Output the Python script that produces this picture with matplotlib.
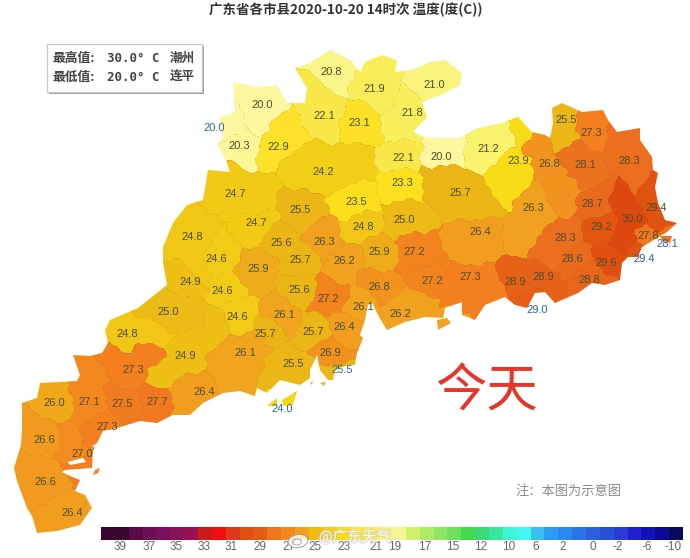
import numpy as np
import matplotlib
matplotlib.use('Agg')
import matplotlib.pyplot as plt
import matplotlib.patheffects as pe
from matplotlib.colors import LinearSegmentedColormap, ListedColormap, Normalize
from matplotlib.patches import Rectangle, PathPatch, Ellipse, Polygon
from matplotlib.path import Path

plt.rcParams['font.family'] = ['Noto Sans CJK SC', 'DejaVu Sans']

# station values, map position (image pixels)
label_temp = [20.8, 21.9, 21.0, 20.0, 22.1, 23.1, 21.8, 20.0, 20.3, 22.9,
              22.1, 20.0, 21.2, 25.5, 27.3, 23.9, 26.8, 28.1, 28.3, 24.2,
              23.3, 25.7, 24.7, 25.5, 23.5, 24.7, 26.3, 26.4, 28.7, 24.8,
              24.8, 25.0, 25.6, 26.3, 24.6, 25.7, 25.9, 25.9, 27.2, 27.2,
              27.3, 26.2, 28.3, 29.2, 30.0, 29.4, 27.8, 28.1, 28.6, 29.6,
              29.4, 24.9, 24.6, 25.6, 27.2, 26.8, 28.9, 28.9, 28.8, 26.2,
              26.1, 29.0, 25.0, 24.6, 26.1, 25.7, 26.4, 24.8, 25.7, 24.9,
              26.1, 25.5, 26.9, 25.5, 27.3, 26.4, 26.0, 27.1, 27.5, 27.7,
              24.0, 26.6, 27.3, 27.0, 26.6, 26.4]
label_x = [331, 374, 434, 262, 324, 359, 412, 214, 239, 278,
           403, 441, 488, 566, 591, 518, 549, 585, 629, 323,
           402, 460, 235, 300, 356, 256, 533, 480, 592, 192,
           363, 404, 281, 324, 216, 300, 258, 379, 414, 432,
           470, 344, 565, 601, 632, 656, 648, 667, 572, 606,
           644, 190, 222, 299, 328, 379, 515, 543, 589, 400,
           363, 537, 168, 237, 284, 313, 344, 127, 265, 185,
           245, 293, 330, 342, 133, 204, 54, 89, 122, 157,
           282, 44, 107, 82, 45, 72]
label_y = [72, 89, 85, 105, 116, 123, 113, 128, 146, 147,
           158, 157, 149, 120, 133, 161, 164, 165, 161, 172,
           183, 193, 194, 210, 202, 223, 208, 232, 204, 237,
           227, 220, 243, 242, 259, 260, 269, 252, 252, 281,
           277, 261, 238, 227, 219, 208, 236, 244, 259, 263,
           259, 282, 291, 290, 299, 287, 282, 277, 280, 314,
           307, 310, 312, 317, 315, 332, 327, 334, 334, 356,
           353, 364, 353, 370, 370, 392, 403, 402, 404, 402,
           409, 440, 427, 454, 482, 513]
# labels printed off their own county, so the label is not used as a seed
label_off_map = [7, 47, 50, 61, 73, 80]

# extra points that shape the county areas: county index, x, y
seed_region = [7, 47, 50, 61, 61, 73, 80, 18, 18, 45, 45, 44, 44, 14, 13, 13,
               16, 16, 17, 17, 69, 69, 69, 74, 74, 67, 67, 62, 62, 75, 75,
               70, 70, 70, 70, 19, 19, 21, 21, 27, 40, 40, 26, 28, 42, 58, 76,
               81, 84, 85, 2, 6, 12, 11, 15, 15, 9, 3, 3, 4, 22, 22, 29, 29,
               59, 59, 71, 71, 77, 82, 82, 83]
seed_x = [228, 668, 640, 522, 532, 335, 282, 620, 635, 645, 660, 625, 628, 590, 560, 565,
          535, 565, 570, 590, 160, 205, 215, 110, 150, 115, 150, 155, 195, 190, 185,
          225, 250, 258, 235, 350, 300, 440, 480, 470, 450, 490, 525, 600, 550, 600, 50,
          35, 35, 55, 450, 405, 500, 440, 525, 505, 285, 255, 265, 315, 225, 255, 175, 200,
          425, 442, 270, 300, 88, 90, 85, 72]
seed_y = [125, 238, 252, 303, 306, 375, 402, 140, 185, 190, 222, 195, 240, 120, 115, 140,
          145, 195, 150, 180, 370, 335, 320, 358, 358, 325, 332, 310, 315, 395, 402,
          360, 370, 340, 385, 165, 165, 175, 205, 250, 290, 290, 230, 190, 255, 270, 385,
          430, 470, 525, 70, 125, 135, 130, 130, 185, 130, 95, 115, 95, 180, 200, 225, 270,
          308, 325, 375, 372, 375, 445, 462, 445]

outline = [(295, 68), (310, 63), (330, 50), (345, 57), (352, 62), (360, 72), (365, 62), (382, 55),
           (397, 60), (395, 72), (412, 70), (430, 62), (445, 60), (462, 73), (460, 85), (445, 93),
           (422, 102), (427, 117), (413, 132), (423, 137), (445, 138), (458, 138), (478, 128),
           (502, 123), (518, 117), (532, 132), (545, 135), (550, 138), (553, 123), (552, 108),
           (562, 103), (582, 112), (603, 110), (608, 120), (617, 132), (640, 128), (640, 140),
           (652, 157), (653, 170), (658, 173), (655, 187), (658, 203), (665, 220), (677, 223),
           (667, 232), (657, 238), (642, 247), (638, 257), (628, 257), (622, 263), (620, 280),
           (605, 285), (592, 283), (578, 293), (555, 303), (545, 292), (535, 293), (527, 308),
           (515, 305), (505, 297), (485, 305), (475, 320), (462, 315), (462, 302), (445, 308),
           (443, 318), (425, 317), (405, 322), (387, 330), (378, 315), (372, 303), (368, 305),
           (365, 320), (360, 335), (363, 338), (357, 353), (355, 365), (348, 365), (335, 370),
           (333, 380), (328, 380), (320, 370), (317, 355), (310, 370), (310, 378), (300, 385),
           (280, 380), (267, 393), (257, 388), (255, 396), (240, 391), (223, 393), (203, 403),
           (190, 415), (173, 415), (157, 423), (140, 421), (117, 428), (103, 431), (93, 451),
           (92, 468), (65, 470), (62, 472), (70, 476), (80, 480), (75, 491), (85, 495), (92, 508),
           (80, 525), (57, 531), (37, 533), (32, 516), (27, 508), (17, 481), (14, 468), (21, 445),
           (22, 430), (22, 403), (37, 398), (40, 383), (77, 381), (80, 375), (73, 355), (90, 356),
           (102, 353), (108, 343), (105, 330), (110, 320), (138, 308), (167, 285), (163, 263),
           (163, 247), (173, 223), (187, 205), (203, 200), (208, 170), (230, 172), (227, 163),
           (217, 143), (223, 138), (220, 117), (235, 112), (233, 82), (257, 87), (277, 85),
           (287, 103), (305, 103), (307, 88)]
islands = [[(267, 406), (277, 398), (277, 406)],
           [(282, 400), (297, 391), (293, 405), (283, 406)],
           [(95, 470), (100, 468), (98, 473), (93, 475)],
           [(438, 330), (437, 320), (447, 318), (451, 323)],
           [(660, 236), (672, 236), (670, 243), (663, 241)],
           [(310, 383), (313, 381), (312, 385)],
           [(320, 383), (326, 382), (324, 386)]]
# small white inlets inside the land
inlets = [[(68, 462), (83, 458), (86, 462), (70, 465)],
          [(92, 446), (100, 442), (96, 448)]]

title_text = '广东省各市县2020-10-20 14时次 温度(度(C))'
legend_names = ['最高值:', '最低值:']
legend_values = ['30.0° C', '20.0° C']
legend_places = ['潮州', '连平']

# colour of the fills against temperature
temp_stops = [20.0, 20.8, 21.2, 21.9, 22.1, 22.9, 23.3, 23.9, 24.2, 24.7, 25.0, 25.7, 26.1, 26.4, 26.9, 27.3, 28.1, 28.7, 29.2, 29.6, 30.0]
temp_colors = ['#fdf8a0', '#fbf68a', '#faf36c', '#f9ee5a', '#fbe84a', '#fde22c', '#fde020', '#fadb18', '#f2cf17',
               '#f3cb16', '#ecbc16', '#ecb516', '#f1a51e', '#f29e20', '#f3921f', '#f37f20', '#ee7320', '#ea6a1e',
               '#e35713', '#e05010', '#dd4810']

# colour bar cells and tick labels
bar_colors = ['#38062e', '#3a0630', '#5a0a48', '#6b0c55', '#7a0f5f', '#8a1058', '#9b0f55',
              '#cc1a1a', '#ee1010', '#e2381a', '#e25010', '#e45c12', '#f0761e', '#f4881c',
              '#f5a018', '#f2bb10', '#f4cc12', '#fade14', '#fcea2a', '#fdee50', '#fcf478', '#f8f49a',
              '#d2f06a', '#aeea66', '#8ee464', '#6ee05c', '#42dc4a', '#3cd878', '#38e8a0', '#40f4d8',
              '#44f4f0', '#38c0ee', '#2a9cf4', '#2a88f2', '#2a74ea', '#2a60de', '#2850d8', '#2c3ad8',
              '#2020d0', '#1212bc', '#0a0a96', '#08085c']
bar_tick_labels = ['39', '37', '35', '33', '31', '29', '27', '25', '23', '21', '19',
                   '17', '15', '12', '10', '6', '2', '0', '-2', '-6', '-10']
bar_tick_x = [120, 149, 176, 204, 231, 260, 289, 315, 344, 376, 395,
              425, 453, 481, 509, 536, 563, 593, 618, 647, 673]

fig = plt.figure(figsize=(6.9, 5.58), dpi=100)
ax = fig.add_axes([0, 0, 1, 1])
ax.set_xlim(0, 690)
ax.set_ylim(558, 0)
ax.axis('off')

# county areas: nearest seed on a slightly bent grid, so the borders are not straight
keep = [i for i in range(len(label_temp)) if i not in label_off_map]
sx = np.array([label_x[i] for i in keep] + seed_x, dtype=float)
sy = np.array([label_y[i] for i in keep] + seed_y, dtype=float)
sid = np.array(keep + seed_region)

gx, gy = np.meshgrid(np.arange(0, 690, 0.5), np.arange(0, 558, 0.5))
bx = gx + 2.2 * np.sin(gy / 6.0) + 1.2 * np.sin(gy / 2.3 + gx / 5.0)
by = gy + 2.2 * np.sin(gx / 7.0) + 1.2 * np.sin(gx / 2.7 - gy / 4.0)
best = np.full(gx.shape, 1e12)
ids = np.zeros(gx.shape, dtype=int)
for k in range(len(sx)):
    d = (bx - sx[k])**2 + (by - sy[k])**2
    hit = d < best
    best[hit] = d[hit]
    ids[hit] = sid[k]
temps = np.array(label_temp)[ids]

norm = Normalize(20.0, 30.0)
cmap = LinearSegmentedColormap.from_list(
    'temp', [((t - 20.0) / 10.0, c) for t, c in zip(temp_stops, temp_colors)], N=256)

# land shape
verts, codes = [], []
for ring in [outline] + islands:
    verts += ring + [ring[0]]
    codes += [Path.MOVETO] + [Path.LINETO] * (len(ring) - 1) + [Path.CLOSEPOLY]
land = PathPatch(Path(verts, codes), transform=ax.transData, facecolor='none', edgecolor='none')
ax.add_patch(land)

im = ax.imshow(temps, cmap=cmap, norm=norm, extent=(0, 690, 558, 0), interpolation='nearest', zorder=1)
im.set_clip_path(land)

# thin county borders
edge = np.zeros(ids.shape, dtype=bool)
edge[:, 1:] |= ids[:, 1:] != ids[:, :-1]
edge[1:, :] |= ids[1:, :] != ids[:-1, :]
edge_im = ax.imshow(np.where(edge, 1.0, np.nan), cmap=ListedColormap(['#7a5a10']), alpha=0.18,
                    extent=(0, 690, 558, 0), interpolation='nearest', zorder=2)
edge_im.set_clip_path(land)
ax.set_xlim(0, 690)
ax.set_ylim(558, 0)

for ring in inlets:
    ax.add_patch(Polygon(ring, closed=True, facecolor='white', edgecolor='none', zorder=3))

# value labels
for i, (t, x, y) in enumerate(zip(label_temp, label_x, label_y)):
    col = '#2c6a8c' if i in label_off_map else '#4a4f2c'
    ax.text(x, y, f'{t:.1f}', ha='center', va='center', fontsize=8, color=col,
            family=['Liberation Sans'], zorder=5)

ax.text(346, 10, title_text, ha='center', va='center', fontsize=9.7, fontweight='bold', color='#333333')

# max/min box
ax.add_patch(Rectangle((49, 46), 155, 48, facecolor='#888888', edgecolor='none', alpha=0.8, zorder=5))
ax.add_patch(Rectangle((47, 44), 155, 48, facecolor='white', edgecolor='#c8c8c8', lw=0.8, zorder=6))
for row, y in enumerate([58.5, 77.5]):
    ax.text(53, y, legend_names[row], ha='left', va='center', fontsize=9.2, fontweight='bold', color='#444444', zorder=7)
    ax.text(107, y, legend_values[row], ha='left', va='center', fontsize=8.9, fontweight='bold',
            color='#444444', family=['DejaVu Sans Mono'], zorder=7)
    ax.text(170, y, legend_places[row], ha='left', va='center', fontsize=9, fontweight='bold', color='#444444', zorder=7)

ax.text(487, 391, '今天', ha='center', va='center', fontsize=37, fontweight='medium', color='#e8352a')
ax.text(568, 491, '注：本图为示意图', ha='center', va='center', fontsize=9.5, color='#8a8a8a')

# colour bar
cell = (683 - 101) / len(bar_colors)
for i, c in enumerate(bar_colors):
    ax.add_patch(Rectangle((101 + i * cell, 527), cell + 0.3, 13, facecolor=c, edgecolor='none', zorder=3))
for x, s in zip(bar_tick_x, bar_tick_labels):
    ax.text(x, 547.5, s, ha='center', va='center', fontsize=8.5, color='#666666', family=['Liberation Sans'], zorder=4)

# weibo watermark
ax.text(355, 537, '@广东天气', ha='center', va='center', fontsize=10.5, color='#ffffff', alpha=0.75, zorder=8,
        path_effects=[pe.withStroke(linewidth=2.0, foreground='#cccccc', alpha=0.5)])
ax.add_patch(Ellipse((298, 541), 20, 13, angle=-10, facecolor='white', edgecolor='#999999', lw=0.8, alpha=0.8, zorder=8))
ax.add_patch(Ellipse((297, 542), 9, 6, facecolor='none', edgecolor='#999999', lw=0.6, zorder=9))

fig.savefig('out.png', dpi=100)
